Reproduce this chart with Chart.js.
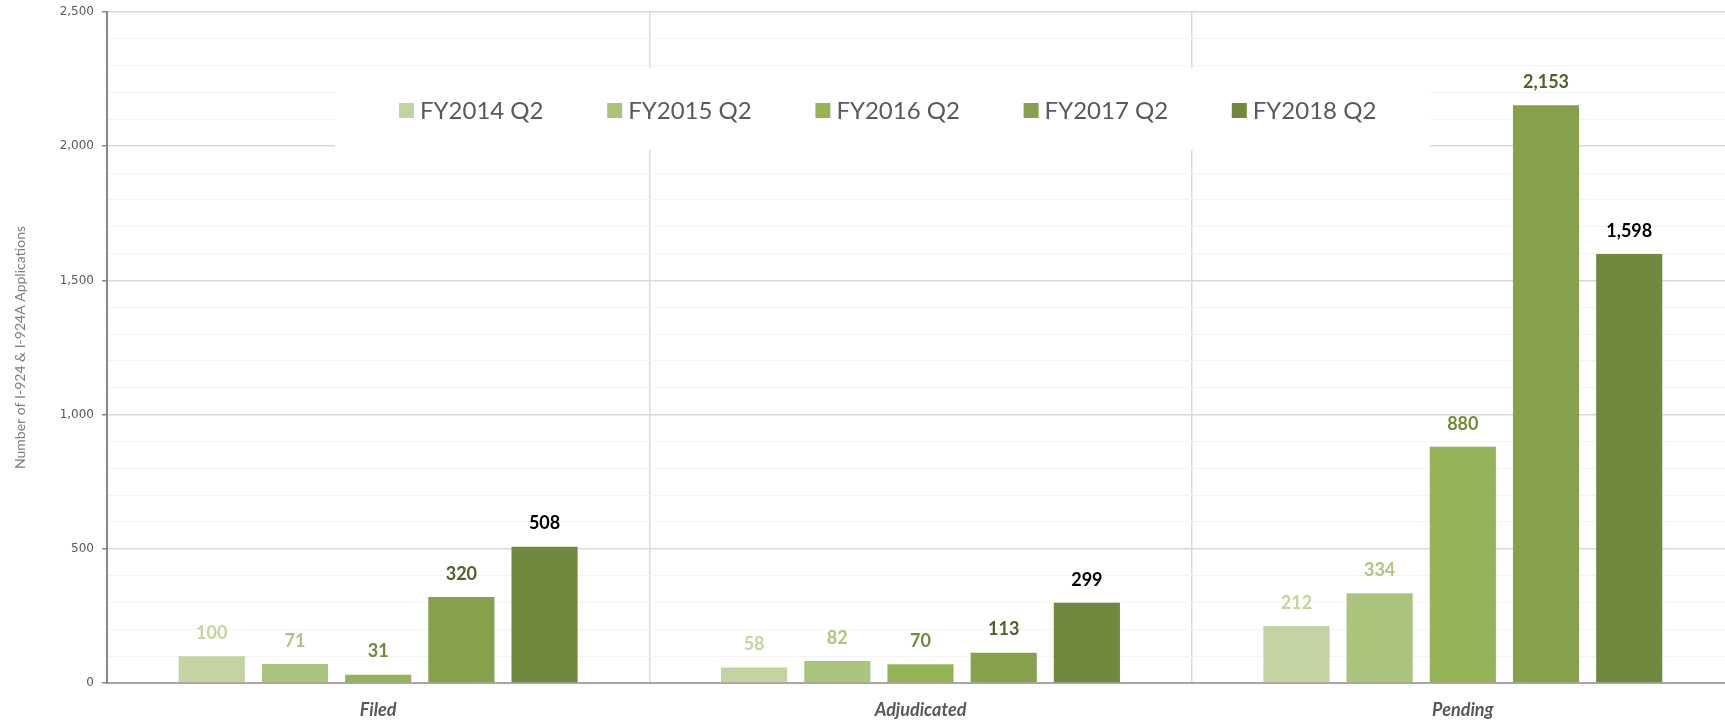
<!DOCTYPE html>
<html>
<head>
<meta charset="utf-8">
<script src="https://cdn.jsdelivr.net/npm/chart.js@4.4.1/dist/chart.umd.min.js"></script>
<style>
  html, body { margin: 0; padding: 0; background: #ffffff; overflow: hidden; }
  #wrap { width: 1725px; height: 720px; position: relative; overflow: hidden; }
  canvas { display: block; }
</style>
</head>
<body>
<div id="wrap"><canvas id="c" width="1734" height="720"></canvas></div>
<script>
const categories = ['Filed', 'Adjudicated', 'Pending'];
const seriesNames = ['FY2014 Q2', 'FY2015 Q2', 'FY2016 Q2', 'FY2017 Q2', 'FY2018 Q2'];
const fy2014 = [100, 58, 212];
const fy2015 = [71, 82, 334];
const fy2016 = [31, 70, 880];
const fy2017 = [320, 113, 2153];
const fy2018 = [508, 299, 1598];
const yTickLabels = ['0', '500', '1,000', '1,500', '2,000', '2,500'];
const axisTitle = 'Number of I-924 & I-924A Applications';

const barColors = ['#c3d4a2', '#aac47e', '#95b357', '#86a04c', '#71893f'];
const labelColors = ['#c3d69b', '#aec67f', '#6f8b38', '#4f6228', '#000000'];
const seriesData = [fy2014, fy2015, fy2016, fy2017, fy2018];

const datasets = seriesNames.map((name, i) => ({
  label: name,
  data: seriesData[i],
  backgroundColor: barColors[i],
  borderWidth: 0,
  categoryPercentage: 0.767,
  barPercentage: 0.795
}));

const valueLabels = {
  id: 'valueLabels',
  afterDatasetsDraw(chart) {
    const ctx = chart.ctx;
    ctx.save();
    ctx.font = 'bold 18px Lato';
    ctx.textAlign = 'center';
    ctx.textBaseline = 'middle';
    chart.data.datasets.forEach((ds, i) => {
      const meta = chart.getDatasetMeta(i);
      meta.data.forEach((bar, j) => {
        ctx.fillStyle = labelColors[i];
        ctx.fillText(ds.data[j].toLocaleString('en-US'), bar.x, bar.y - 23);
      });
    });
    ctx.restore();
  }
};

const boxLegend = {
  id: 'boxLegend',
  beforeDatasetsDraw(chart) {
    const ctx = chart.ctx;
    ctx.save();
    ctx.fillStyle = '#ffffff';
    ctx.fillRect(335, 68, 1095, 82);
    ctx.font = '24px Lato';
    ctx.textBaseline = 'middle';
    ctx.textAlign = 'left';
    chart.data.datasets.forEach((ds, i) => {
      const x = 399 + i * 208.2;
      const y = 111;
      ctx.fillStyle = ds.backgroundColor;
      ctx.fillRect(x, y - 8, 15, 15);
      ctx.fillStyle = '#595959';
      ctx.fillText(ds.label, x + 21, y);
    });
    ctx.restore();
  }
};

new Chart(document.getElementById('c'), {
  type: 'bar',
  data: { labels: categories, datasets },
  options: {
    responsive: false,
    animation: false,
    maintainAspectRatio: false,
    layout: { padding: { top: 12, left: 0, right: 0, bottom: 0 } },
    plugins: { legend: { display: false }, tooltip: { enabled: false } },
    scales: {
      x: {
        afterFit(s) { s.height = 37; s.paddingLeft = 0; s.paddingRight = 0; },
        grid: { offset: true, color: '#d9d9d9', lineWidth: 1.5, drawTicks: false },
        border: { color: '#a6a6a6', width: 2 },
        ticks: {
          padding: 16,
          color: '#595959',
          font: { family: 'Lato', size: 18, weight: 'bold', style: 'italic' }
        }
      },
      y: {
        min: 0,
        max: 2500,
        afterFit(s) { s.width = 107; s.paddingTop = 0; s.paddingBottom = 0; },
        afterBuildTicks(s) {
          const t = [];
          for (let v = 0; v <= 2500; v += 100) t.push({ value: v });
          s.ticks = t;
        },
        grid: {
          color: (c) => (c.tick && c.tick.value % 500 === 0) ? '#d9d9d9' : '#f3f3f3',
          lineWidth: (c) => (c.tick && c.tick.value % 500 === 0) ? 1.5 : 1,
          tickColor: (c) => (c.tick && c.tick.value % 500 === 0) ? '#868686' : 'rgba(0,0,0,0)',
          tickLength: 5
        },
        border: { color: '#868686', width: 2 },
        ticks: {
          autoSkip: false,
          padding: 8,
          color: '#595959',
          font: { family: 'DejaVu Sans', size: 12 },
          callback: (v) => (v % 500 === 0) ? yTickLabels[v / 500] : ''
        },
        title: {
          display: true,
          text: axisTitle,
          color: '#7f7f7f',
          font: { family: 'Lato', size: 14 },
          padding: { top: 12, bottom: 0 }
        }
      }
    }
  },
  plugins: [boxLegend, valueLabels]
});
</script>
</body>
</html>
